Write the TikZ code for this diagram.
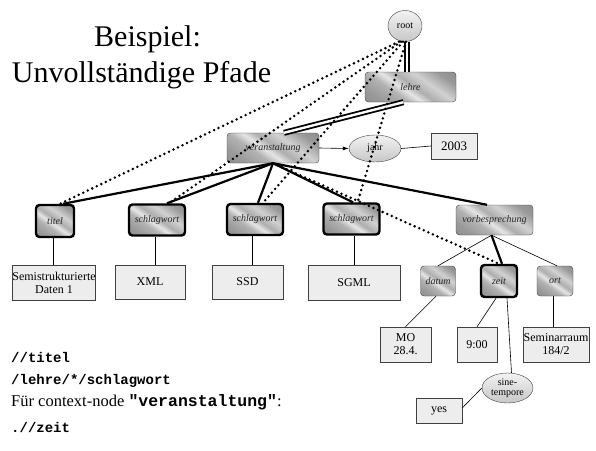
\documentclass[tikz,border=0pt]{standalone}
\usepackage{fontspec}
\setmainfont{Liberation Serif}
\setmonofont{Liberation Mono}
\usetikzlibrary{arrows.meta,shapes.geometric}

% brushed-metal fill for element nodes
\pgfdeclarehorizontalshading{metal}{100bp}{color(0bp)=(black!50); color(25bp)=(black!40); color(38bp)=(black!30); color(45bp)=(black!10); color(52bp)=(black!32); color(62bp)=(black!18); color(75bp)=(black!40); color(100bp)=(black!50)}

\begin{document}
\begin{tikzpicture}[x=1pt,y=-1pt,
  elem/.style={draw=black!75, rounded corners=3.5pt, shade, shading=metal, shading angle=55,
    inner sep=0pt, font=\fontsize{10}{12}\selectfont\itshape, text=black!85},
  hit/.style={elem, line width=2.4pt, draw=black},
  attr/.style={ellipse, draw=black!75, top color=black!5, bottom color=black!22, inner sep=0pt,
    font=\fontsize{10}{11}\selectfont, align=center},
  leaf/.style={draw=black!75, fill=black!7, inner sep=0pt, font=\fontsize{12}{13}\selectfont, align=center},
  tie/.style={draw=black, line width=0.6pt},
  route/.style={draw=black, line width=2.2pt},
  twin/.style={draw=black, line width=1.8pt, double=white, double distance=2.4pt},
  hop/.style={draw=black, line width=2.8pt, line cap=round, dash pattern=on 0pt off 5pt},
  code/.style={anchor=base west, inner sep=0pt, font=\fontsize{14}{16}\selectfont\ttfamily\bfseries},
]
\useasboundingbox (0,0) rectangle (596,450);

% title
\node[anchor=base, inner sep=0pt, font=\fontsize{30}{36}\selectfont] (t1) at (147.5,46) {Beispiel:};
\node[anchor=base, inner sep=0pt, font=\fontsize{30}{36}\selectfont] (t2) at (141.5,82) {Unvollständige Pfade};

% tree nodes
\node[attr, minimum width=34pt, minimum height=31pt] (root) at (405,26) {root};
\node[elem, minimum width=91pt, minimum height=30pt] (lehre) at (410.5,87) {lehre};
\node[elem, minimum width=92pt, minimum height=30pt] (veran) at (273,148) {veranstaltung};
\node[attr, minimum width=52pt, minimum height=27pt] (jahr) at (375,148.5) {jahr};
\node[leaf, minimum width=46pt, minimum height=26pt, font=\fontsize{13}{14}\selectfont] (y2003) at (454,146) {2003};

\node[hit, minimum width=38pt, minimum height=32pt] (titel) at (55,221) {titel};
\node[hit, minimum width=56pt, minimum height=31pt] (sw1) at (157,220) {schlagwort};
\node[hit, minimum width=56pt, minimum height=31pt] (sw2) at (255,219.5) {schlagwort};
\node[hit, minimum width=56pt, minimum height=31pt] (sw3) at (351.5,219) {schlagwort};
\node[elem, minimum width=77pt, minimum height=30pt] (vorb) at (494.5,220) {vorbesprechung};

\node[leaf, minimum width=82pt, minimum height=35pt] (semi) at (54,282.5) {Semistrukturierte\\Daten 1};
\node[leaf, minimum width=70pt, minimum height=34pt] (xml) at (150,282) {XML};
\node[leaf, minimum width=71pt, minimum height=34pt] (ssd) at (247.5,282) {SSD};
\node[leaf, minimum width=92pt, minimum height=35pt] (sgml) at (354,282.5) {SGML};

\node[elem, minimum width=35pt, minimum height=30pt] (datum) at (438,281) {datum};
\node[hit, minimum width=36pt, minimum height=32pt] (zeit) at (499,281) {zeit};
\node[elem, minimum width=36pt, minimum height=30pt] (ort) at (555,281) {ort};

\node[leaf, minimum width=51pt, minimum height=35pt] (mo) at (405.5,344.5) {MO\\28.4.};
\node[leaf, minimum width=40pt, minimum height=35pt] (nine) at (477,344.5) {9:00};
\node[leaf, minimum width=66pt, minimum height=35pt] (sem) at (556,344.5) {Seminarraum\\184/2};
\node[attr, minimum width=51pt, minimum height=30pt] (sine) at (507.5,388) {sine-\\[-1pt]tempore};
\node[leaf, minimum width=46pt, minimum height=25pt] (yes) at (439,410.5) {yes};

% thin structural edges
\draw[tie, -{Latex[length=6pt,width=4pt]}] (veran.east) -- (jahr.west);
\draw[tie] (jahr.east) -- (y2003.west);
\draw[tie] ([xshift=-2pt]titel.south) -- ([xshift=-2pt]titel.south |- semi.north);
\draw[tie] ([xshift=-2pt]sw1.south) -- ([xshift=-2pt]sw1.south |- xml.north);
\draw[tie] ([xshift=-3pt]sw2.south) -- ([xshift=-3pt]sw2.south |- ssd.north);
\draw[tie] ([xshift=2.5pt]sw3.south) -- ([xshift=2.5pt]sw3.south |- sgml.north);
\draw[tie] ([xshift=-3pt]vorb.south) -- (datum.north);
\draw[tie] ([xshift=-3pt]vorb.south) -- ([xshift=2pt]ort.north);
\draw[tie] ([xshift=-2pt]datum.south) -- (mo.north);
\draw[tie] ([xshift=-3pt]zeit.south) -- (nine.north);
\draw[tie] ([xshift=8pt]zeit.south) -- ([xshift=4pt]sine.north);
\draw[tie] ([xshift=-2pt]ort.south) -- ([xshift=-2pt]ort.south |- sem.north);
\draw[tie] (sine.west) -- ([yshift=2.5pt]yes.east);

% matched paths (thick)
\draw[twin] ([xshift=2pt]root.south) -- ([xshift=2pt]root.south |- lehre.north);
\draw[twin] ([xshift=-7pt]lehre.south) -- ([xshift=11pt]veran.north);
\draw[route] (veran.south) -- ([xshift=8pt]titel.north);
\draw[route] (veran.south) -- ([xshift=10pt]sw1.north);
\draw[route] (veran.south) -- ([xshift=3pt]sw2.north);
\draw[route] (veran.south) -- ([xshift=1.5pt]sw3.north);
\draw[route] (veran.south) -- ([xshift=-7.5pt]vorb.north);
\draw[route] ([xshift=-3pt]vorb.south) -- ([xshift=3pt]zeit.north);

% abbreviated steps (dotted)
\draw[hop] ([xshift=-6pt]root.south) -- ([xshift=5pt]titel.north);
\draw[hop] ([xshift=-4pt]root.south) -- ([xshift=12pt]sw1.north);
\draw[hop] ([xshift=-2pt]root.south) -- ([xshift=8pt]sw2.north);
\draw[hop] ([xshift=1pt]root.south) -- ([xshift=6pt]sw3.north);
\draw[hop] (veran.south) -- (zeit.north);

% query examples
\node[code] (q1) at (11,362) {//titel};
\node[code] (q2) at (11,384) {/lehre/*/schlagwort};
\node[anchor=base west, inner sep=0pt, font=\fontsize{16.5}{18}\selectfont] (q3) at (11,406)
  {Für context-node {\ttfamily\bfseries "veranstaltung"}:};
\node[code] (q4) at (11,432) {.//zeit};
\end{tikzpicture}
\end{document}
